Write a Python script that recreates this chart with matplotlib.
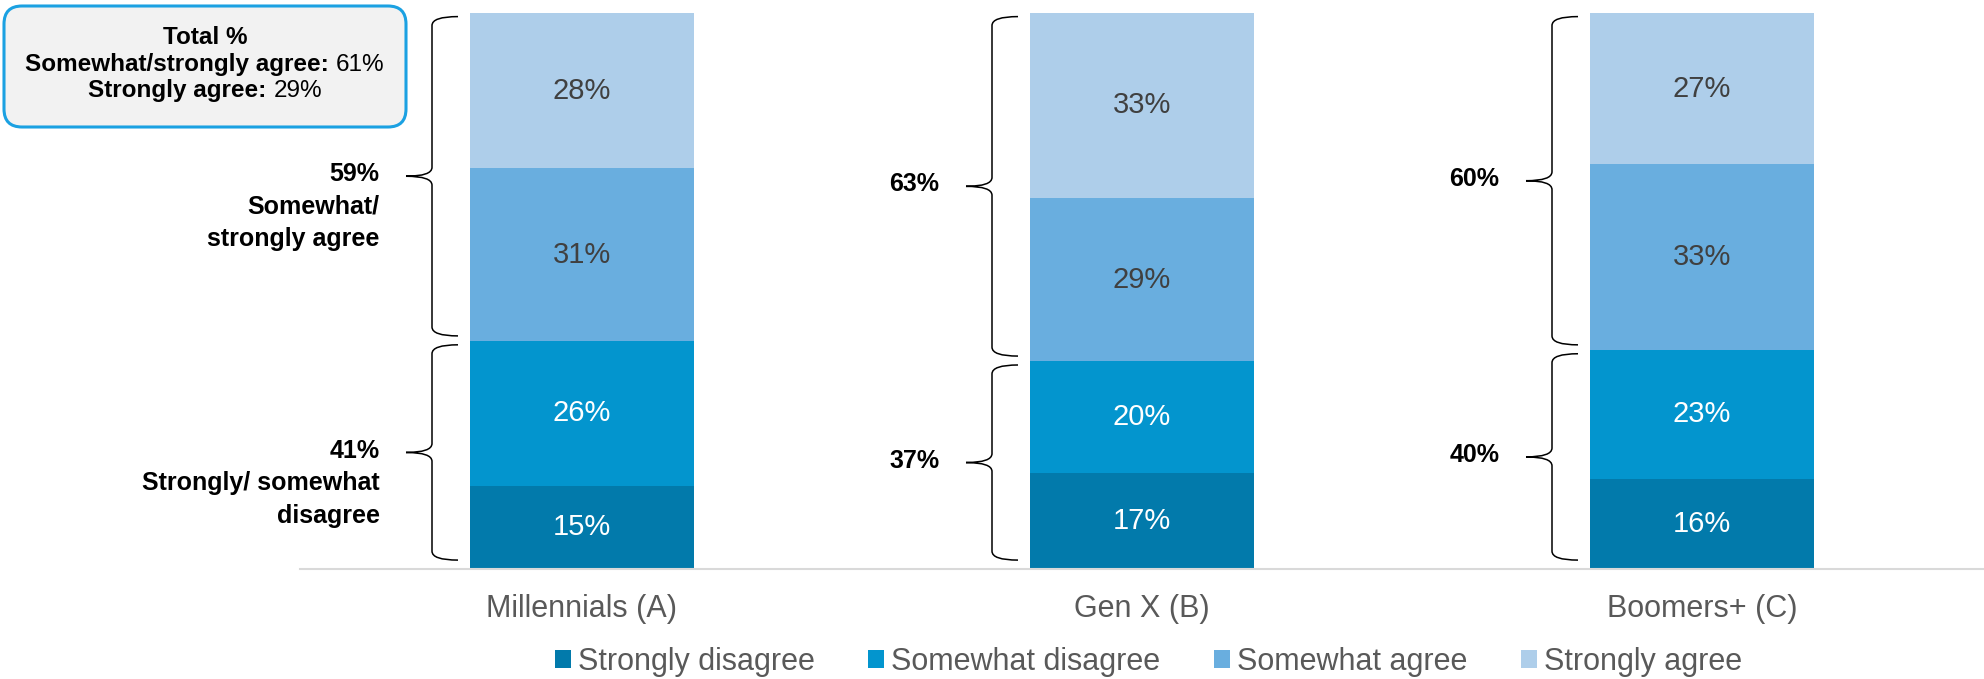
import matplotlib
matplotlib.use("Agg")
import matplotlib.pyplot as plt
import numpy as np
from matplotlib.patches import FancyBboxPatch, PathPatch
from matplotlib.path import Path
from matplotlib import transforms

plt.rcParams["font.family"] = ["Liberation Sans", "DejaVu Sans"]

categories = ["Millennials (A)", "Gen X (B)", "Boomers+ (C)"]
series_names = ["Strongly disagree", "Somewhat disagree", "Somewhat agree", "Strongly agree"]
strongly_disagree = [15, 17, 16]
somewhat_disagree = [26, 20, 23]
somewhat_agree = [31, 29, 33]
strongly_agree = [28, 33, 27]
net_agree = [59, 63, 60]
net_disagree = [41, 37, 40]
total_agree = 61
total_strongly_agree = 29

colors = ["#027AAB", "#0395CE", "#69AEDF", "#AECEEA"]
label_colors = ["white", "white", "#404040", "#404040"]

W, H = 1984, 679
fig = plt.figure(figsize=(W / 100, H / 100), dpi=100)

# plot area: baseline at y=569px, bar tops at y=12.7px, starts at x=300px
px_per_unit = 560.0
x0_px = 582.0
ax = fig.add_axes([300 / W, (H - 569) / H, (W - 300) / W, (569 - 12.7) / H])
ax.set_xlim((300 - x0_px) / px_per_unit, (W - x0_px) / px_per_unit)
ax.set_ylim(0, 100)

raw = np.array([strongly_disagree, somewhat_disagree, somewhat_agree, strongly_agree], dtype=float)
shares = raw / raw.sum(axis=0) * 100
x = np.arange(len(categories))
bar_w = 0.4

bottom = np.zeros(len(categories))
for i, name in enumerate(series_names):
    ax.bar(x, shares[i], bar_w, bottom=bottom, color=colors[i], label=name,
           edgecolor="none")
    for j in range(len(categories)):
        ax.text(x[j], bottom[j] + shares[i][j] / 2, f"{int(raw[i][j])}%",
                ha="center", va="center", fontsize=21, color=label_colors[i])
    bottom += shares[i]

for side in ["top", "right", "left"]:
    ax.spines[side].set_visible(False)
ax.spines["bottom"].set_color("#d9d9d9")
ax.spines["bottom"].set_linewidth(1.5)
ax.set_yticks([])
ax.set_xticks(x, categories, fontsize=22, color="#595959")
ax.tick_params(axis="x", length=0, pad=18)


def brace(ax, x_end, x_v, x_tip, y_top, y_bot, ry=1.6):
    y_mid = (y_top + y_bot) / 2
    verts = [
        (x_end, y_top), (x_v, y_top), (x_v, y_top - ry),
        (x_v, y_mid + ry),
        (x_v, y_mid), (x_tip, y_mid),
        (x_v, y_mid), (x_v, y_mid - ry),
        (x_v, y_bot + ry),
        (x_v, y_bot), (x_end, y_bot),
    ]
    codes = [Path.MOVETO, Path.CURVE3, Path.CURVE3,
             Path.LINETO,
             Path.CURVE3, Path.CURVE3,
             Path.CURVE3, Path.CURVE3,
             Path.LINETO,
             Path.CURVE3, Path.CURVE3]
    ax.add_patch(PathPatch(Path(verts, codes), facecolor="none", edgecolor="black",
                           linewidth=1.1, clip_on=False))
    return y_mid


captions_agree = ["Somewhat/\nstrongly agree", "", ""]
captions_disagree = ["Strongly/ somewhat\ndisagree", "", ""]

disagree_share = shares[0] + shares[1]
for j in range(len(categories)):
    left = x[j] - bar_w / 2
    x_end = left - 12 / px_per_unit
    x_v = left - 38 / px_per_unit
    x_tip = left - 64 / px_per_unit
    b = disagree_share[j]
    groups = [
        (99.3, b + 0.9, net_agree[j], captions_agree[j]),
        (b - 0.7, 1.6, net_disagree[j], captions_disagree[j]),
    ]
    for y_top, y_bot, value, caption in groups:
        y_mid = brace(ax, x_end, x_v, x_tip, y_top, y_bot)
        label = f"{value}%" + (f"\n{caption}" if caption else "")
        trans = transforms.offset_copy(ax.transData, fig=fig, x=-19, y=10, units="points")
        ax.text(x_tip, y_mid, label, transform=trans, ha="right", va="top",
                fontsize=18, fontweight="bold", linespacing=1.45, clip_on=False)

# summary box in the top-left corner (pixel coordinates, origin bottom-left)
box = FancyBboxPatch((4, H - 127), 402, 121,
                     boxstyle="round,pad=0,rounding_size=18",
                     transform=transforms.IdentityTransform(), facecolor="#f2f2f2",
                     edgecolor="#1BA1E2", linewidth=2.2)
fig.patches.append(box)

renderer = fig.canvas.get_renderer()


def mixed_line(cx, cy, bold, regular, size=17.5):
    t1 = fig.text(0, (H - cy) / H, bold, fontsize=size, fontweight="bold",
                  va="center", ha="left")
    parts = [t1]
    if regular:
        t2 = fig.text(0, (H - cy) / H, regular, fontsize=size, va="center", ha="left")
        parts.append(t2)
    widths = [t.get_window_extent(renderer).width for t in parts]
    gap = 0.28 * size * 100 / 72 if regular else 0
    total = sum(widths) + gap
    start = cx - total / 2
    t1.set_x(start / W)
    if regular:
        parts[1].set_x((start + widths[0] + gap) / W)


mixed_line(205, 38, "Total %", "")
mixed_line(205, 65, "Somewhat/strongly agree:", f"{total_agree}%")
mixed_line(205, 91, "Strongly agree:", f"{total_strongly_agree}%")

ax.legend(ncol=4, loc="center", bbox_to_anchor=(1148.5 / W, (H - 662) / H),
          bbox_transform=fig.transFigure, frameon=False, fontsize=22,
          handlelength=0.52, handleheight=0.52, handletextpad=0.23,
          columnspacing=1.76, labelcolor="#595959", borderpad=0)

fig.savefig("out.png", dpi=100)
